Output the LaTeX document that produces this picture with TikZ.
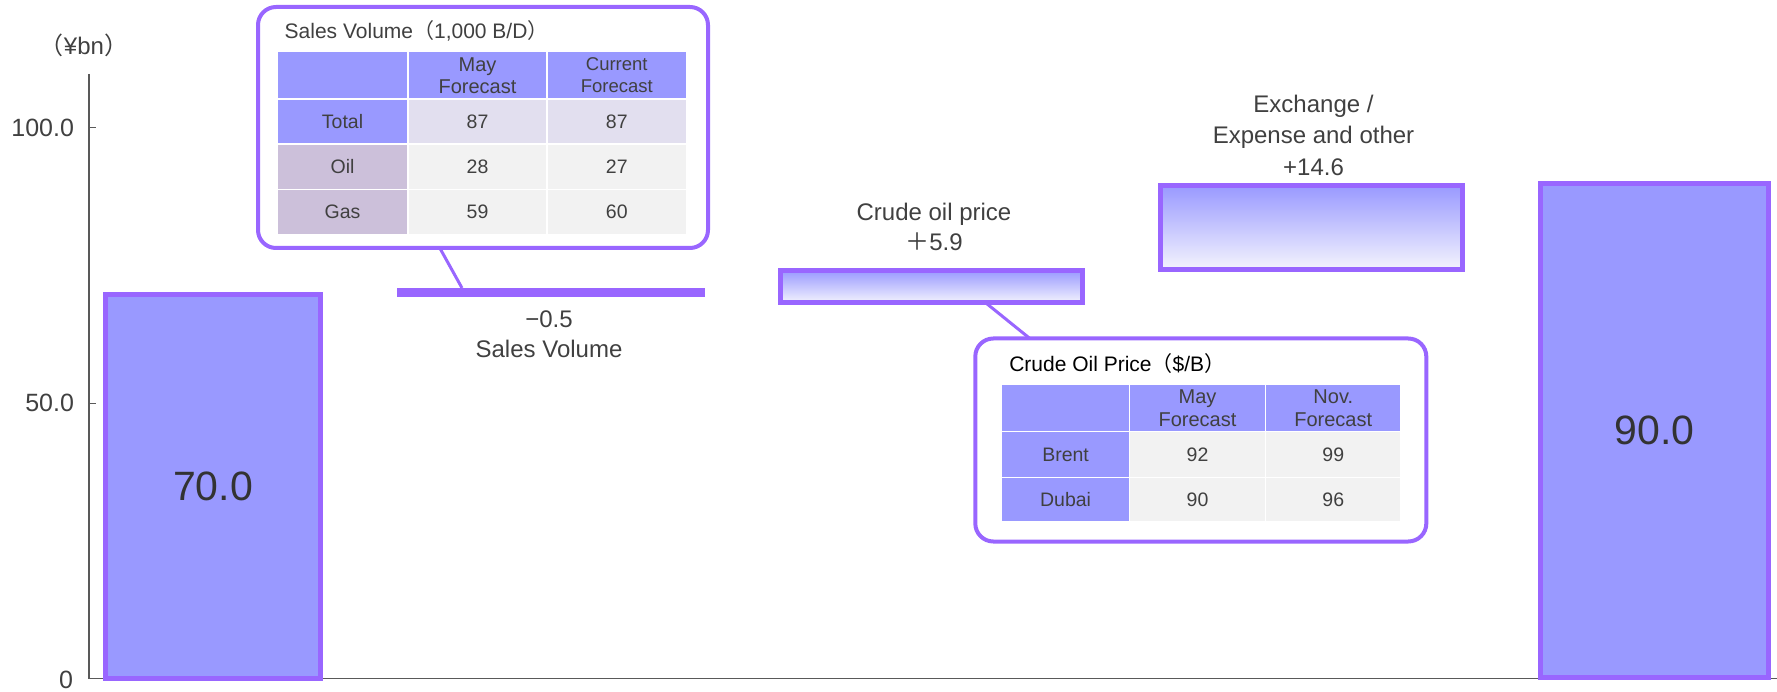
\documentclass[tikz,border=0pt]{standalone}
\usepackage{fontspec}
\setmainfont{Liberation Sans}
\newfontfamily\cjk{Noto Sans CJK JP}
\usetikzlibrary{calc}

\definecolor{barfill}{HTML}{9999FF}
\definecolor{barline}{HTML}{9966FF}
\definecolor{txt}{HTML}{404040}
\definecolor{numtxt}{HTML}{333333}
\definecolor{axisgray}{HTML}{595959}
\definecolor{cellgray}{HTML}{F2F2F2}
\definecolor{celllav}{HTML}{E2DFEF}
\definecolor{cellmauve}{HTML}{CCC0DA}
\definecolor{fadeend}{HTML}{F4F4FD}

\newcommand{\fwl}{{\cjk （}}
\newcommand{\fwr}{{\cjk ）}}
\newcommand{\fsz}[2]{\fontsize{#1}{#2}\selectfont}

\begin{document}
\begin{tikzpicture}[x=1pt,y=-1pt,
  every node/.style={inner sep=0pt, outer sep=0pt},
  solidbar/.style={draw=barline, line width=5pt, fill=barfill},
  fadebar/.style={draw=barline, line width=5pt, top color=barfill, bottom color=fadeend},
  callbox/.style={draw=barline, line width=4pt, fill=white, rounded corners=18pt},
  callout/.style={draw=barline, line width=3pt},
  cell/.style={draw=white, line width=1.5pt, text=txt, font=\fsz{19.5}{22}, align=center},
  axislabel/.style={text=txt, font=\fsz{25}{30}},
  deltalabel/.style={text=txt, font=\fsz{24}{30}, align=center},
  totallabel/.style={text=numtxt, font=\fsz{41}{48}}
]
\useasboundingbox (0,0) rectangle (1777,692);

% value axis and baseline
\draw[axisgray, line width=1.5pt] (89,74) -- (89,678.3) -- (1777,678.3);
\draw[axisgray, line width=1.5pt] (89,127.7) -- (96,127.7);
\draw[axisgray, line width=1.5pt] (89,403.3) -- (96,403.3);
\node[axislabel, anchor=east] (t100) at (74,127.7) {100.0};
\node[axislabel, anchor=east] (t50) at (74,403.3) {50.0};
\node[axislabel, anchor=east] (t0) at (73,680) {0};
\node[axislabel, font=\fsz{24}{30}] (unit) at (84,45) {\fwl¥bn\fwr};

% totals
\node[solidbar, minimum width=215, minimum height=383.4] (b1) at (213,486.5) {};
\node[totallabel] (v1) at (b1.center) {70.0};
\node[solidbar, minimum width=228, minimum height=494.3] (b5) at (1654.5,430.4) {};
\node[totallabel] (v5) at (b5.center) {90.0};

% changes
\node[fill=barline, minimum width=308, minimum height=9] (sbar) at (551,292.5) {};
\node[fadebar, minimum width=302, minimum height=32.5] (cbar) at (931.5,286.7) {};
\node[draw=barline, line width=5pt, shade, shading=axis, top color=barfill, middle color=barfill!60!white, bottom color=fadeend, minimum width=302, minimum height=84] (xbar) at (1311.5,227.5) {};

\node[deltalabel, anchor=north] (slab) at (549,311) {−0.5\\Sales Volume};
\node[deltalabel] (clab) at (934,227) {Crude oil price\\{\cjk ＋}5.9};
\node[deltalabel, font=\fsz{24}{31.5}] (xlab) at (1313.5,135) {Exchange /\\Expense and other\\+14.6};

% callout boxes (outlines first, so the leader lines can be drawn under the contents)
\node[callbox, minimum width=450, minimum height=241] (sbox) at (483,127.5) {};
\node[callbox, minimum width=451, minimum height=203] (cbox) at (1200.8,440) {};

% leader lines from the change bars to their boxes
\draw[callout] ($(sbar.north west)!0.211!(sbar.north east)$) -- ($(sbox.south west)!0.404!(sbox.south east)$);
\draw[callout] ($(cbar.south west)!0.68!(cbar.south east)$) -- ($(cbox.north west)!0.121!(cbox.north east)$);

% sales volume table
\node[anchor=west, text=txt, font=\fsz{21}{25}] (stitle) at (284.7,31) {Sales Volume\fwl1,000 B/D\fwr};
\node[cell, fill=barfill, minimum width=131, minimum height=47.1] (s00) at (342.5,75.25) {};
\node[cell, fill=barfill, minimum width=139, minimum height=47.1, font=\fsz{20}{22}] (s01) at (477.5,75.25) {May\\Forecast};
\node[cell, fill=barfill, minimum width=139.5, minimum height=47.1, font=\fsz{18.5}{22}] (s02) at (616.75,75.25) {Current\\Forecast};
\node[cell, fill=barfill, minimum width=131, minimum height=45] (s10) at (342.5,121.3) {Total};
\node[cell, fill=celllav, minimum width=139, minimum height=45] (s11) at (477.5,121.3) {87};
\node[cell, fill=celllav, minimum width=139.5, minimum height=45] (s12) at (616.75,121.3) {87};
\node[cell, fill=cellmauve, minimum width=131, minimum height=45.7] (s20) at (342.5,166.65) {Oil};
\node[cell, fill=cellgray, minimum width=139, minimum height=45.7] (s21) at (477.5,166.65) {28};
\node[cell, fill=cellgray, minimum width=139.5, minimum height=45.7] (s22) at (616.75,166.65) {27};
\node[cell, fill=cellmauve, minimum width=131, minimum height=44.8] (s30) at (342.5,211.9) {Gas};
\node[cell, fill=cellgray, minimum width=139, minimum height=44.8] (s31) at (477.5,211.9) {59};
\node[cell, fill=cellgray, minimum width=139.5, minimum height=44.8] (s32) at (616.75,211.9) {60};

% crude oil price table
\node[anchor=west, text=black, font=\fsz{21}{25}] (ctitle) at (1009.3,363.3) {Crude Oil Price\fwl\$/B\fwr};
\node[cell, fill=barfill, minimum width=127.8, minimum height=47.4] (c00) at (1065.6,408) {};
\node[cell, fill=barfill, minimum width=136, minimum height=47.4, font=\fsz{20}{22.5}] (c01) at (1197.5,408) {May\\Forecast};
\node[cell, fill=barfill, minimum width=135.5, minimum height=47.4, font=\fsz{20}{22.5}] (c02) at (1333.25,408) {Nov.\\Forecast};
\node[cell, fill=barfill, minimum width=127.8, minimum height=45.6] (c10) at (1065.6,454.5) {Brent};
\node[cell, fill=cellgray, minimum width=136, minimum height=45.6] (c11) at (1197.5,454.5) {92};
\node[cell, fill=cellgray, minimum width=135.5, minimum height=45.6] (c12) at (1333.25,454.5) {99};
\node[cell, fill=barfill, minimum width=127.8, minimum height=44.4] (c20) at (1065.6,499.5) {Dubai};
\node[cell, fill=cellgray, minimum width=136, minimum height=44.4] (c21) at (1197.5,499.5) {90};
\node[cell, fill=cellgray, minimum width=135.5, minimum height=44.4] (c22) at (1333.25,499.5) {96};

\end{tikzpicture}
\end{document}
